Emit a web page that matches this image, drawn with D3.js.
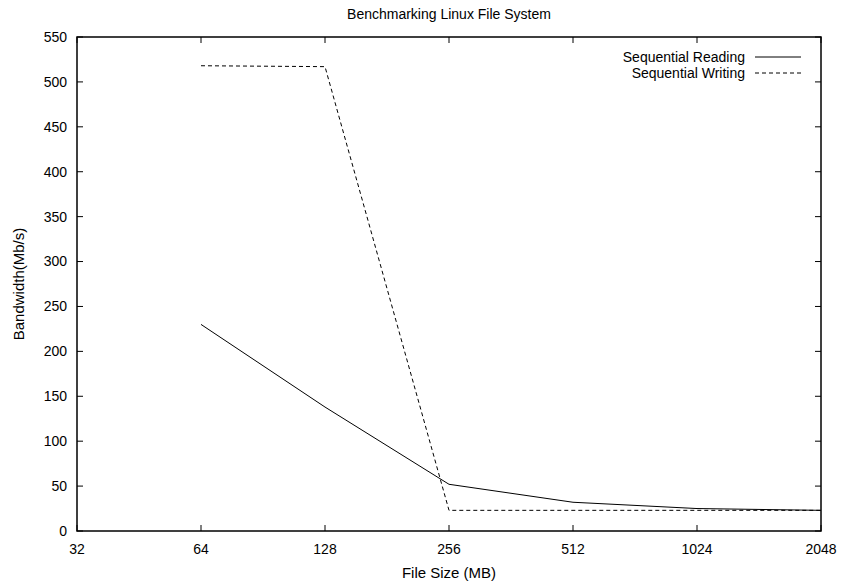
<!DOCTYPE html>
<html>
<head>
<meta charset="utf-8">
<script src="https://cdn.jsdelivr.net/npm/d3@7"></script>
<style>
  body { margin: 0; background: #fff; }
  svg { display: block; font-family: "Liberation Sans", Arial, sans-serif; }
</style>
</head>
<body>
<svg id="chart" width="841" height="584"></svg>
<script>
// data
const fileSizes = [64, 128, 256, 512, 1024, 2048];
const readBw = [230, 138, 52, 32, 25, 23];
const writeBw = [518, 517, 23, 23, 23, 23];
const xTicks = [32, 64, 128, 256, 512, 1024, 2048];
const yTicks = [0, 50, 100, 150, 200, 250, 300, 350, 400, 450, 500, 550];

const svg = d3.select("#chart");
const margin = {top: 37, right: 20, bottom: 53, left: 77};
const width = 841 - margin.left - margin.right,
      height = 584 - margin.top - margin.bottom;

const x = d3.scaleLog().base(2).domain([32, 2048]).range([0, width]);
const y = d3.scaleLinear().domain([0, 550]).range([height, 0]);

const g = svg.append("g").attr("transform", `translate(${margin.left},${margin.top})`);

// ticks (gnuplot style, inward on all four sides)
const tickLen = 6;
xTicks.forEach(t => {
  g.append("line").attr("x1", x(t)).attr("x2", x(t)).attr("y1", height).attr("y2", height - tickLen)
    .attr("stroke", "#000").attr("stroke-width", 1);
  g.append("line").attr("x1", x(t)).attr("x2", x(t)).attr("y1", 0).attr("y2", tickLen)
    .attr("stroke", "#000").attr("stroke-width", 1);
  g.append("text").attr("x", x(t)).attr("y", height + 23).attr("text-anchor", "middle")
    .style("font-size", "14px").text(t);
});
yTicks.forEach(t => {
  g.append("line").attr("x1", 0).attr("x2", tickLen).attr("y1", y(t)).attr("y2", y(t))
    .attr("stroke", "#000").attr("stroke-width", 1);
  g.append("line").attr("x1", width).attr("x2", width - tickLen).attr("y1", y(t)).attr("y2", y(t))
    .attr("stroke", "#000").attr("stroke-width", 1);
  g.append("text").attr("x", -10).attr("y", y(t)).attr("dy", "0.35em").attr("text-anchor", "end")
    .style("font-size", "14px").text(t);
});

// frame
g.append("rect").attr("width", width).attr("height", height)
  .attr("fill", "none").attr("stroke", "#000").attr("stroke-width", 1.5);

const line = d3.line().x(d => x(d[0])).y(d => y(d[1]));

g.append("path").datum(d3.zip(fileSizes, readBw))
  .attr("d", line).attr("fill", "none").attr("stroke", "#000").attr("stroke-width", 1);
g.append("path").datum(d3.zip(fileSizes, writeBw))
  .attr("d", line).attr("fill", "none").attr("stroke", "#000").attr("stroke-width", 1)
  .attr("stroke-dasharray", "4,3");

// legend
const legend = [["Sequential Reading", null], ["Sequential Writing", "4,3"]];
legend.forEach((l, i) => {
  const ly = 20 + i * 16;
  g.append("text").attr("x", width - 76).attr("y", ly).attr("dy", "0.35em").attr("text-anchor", "end")
    .style("font-size", "14px").text(l[0]);
  g.append("line").attr("x1", width - 66).attr("x2", width - 20).attr("y1", ly).attr("y2", ly)
    .attr("stroke", "#000").attr("stroke-width", 1).attr("stroke-dasharray", l[1]);
});

// titles
svg.append("text").attr("x", margin.left + width / 2).attr("y", 19).attr("text-anchor", "middle")
  .style("font-size", "14px").text("Benchmarking Linux File System");
svg.append("text").attr("x", margin.left + width / 2).attr("y", 578).attr("text-anchor", "middle")
  .style("font-size", "15px").text("File Size (MB)");
svg.append("text").attr("transform", `translate(24,${margin.top + height / 2}) rotate(-90)`)
  .attr("text-anchor", "middle").style("font-size", "15px").text("Bandwidth(Mb/s)");
</script>
</body>
</html>
